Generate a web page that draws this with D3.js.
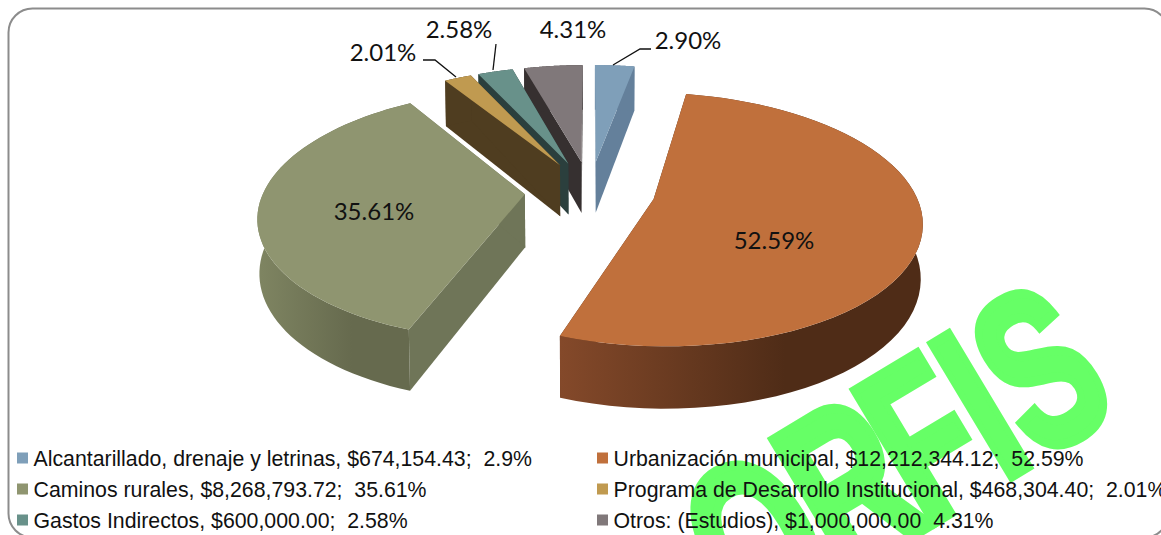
<!DOCTYPE html>
<html>
<head>
<meta charset="utf-8">
<script src="https://cdn.jsdelivr.net/npm/d3@7"></script>
<style>
  html, body { margin: 0; padding: 0; background: #fff; overflow: hidden; }
  svg { display: block; }
  text { white-space: pre; }
</style>
</head>
<body>
<div id="chart"></div>
<script>
// chart data
const categories = [
  "Alcantarillado, drenaje y letrinas",
  "Urbanización municipal",
  "Caminos rurales",
  "Programa de Desarrollo Institucional",
  "Gastos Indirectos",
  "Otros: (Estudios)"
];
const shares = [2.90, 52.59, 35.61, 2.01, 2.58, 4.31];
const pieLabels = ["2.90%", "52.59%", "35.61%", "2.01%", "2.58%", "4.31%"];
const legendTexts = [
  "Alcantarillado, drenaje y letrinas, $674,154.43;  2.9%",
  "Urbanización municipal, $12,212,344.12;  52.59%",
  "Caminos rurales, $8,268,793.72;  35.61%",
  "Programa de Desarrollo Institucional, $468,304.40;  2.01%",
  "Gastos Indirectos, $600,000.00;  2.58%",
  "Otros: (Estudios), $1,000,000.00  4.31%"
];
const topColors = ["#7f9fb9", "#c0703c", "#8f9570", "#c09a50", "#68918a", "#80787a"];
const wallColors = ["#64809b", "#4f2c17", "#6f7558", "#4f3d20", "#2b3f3d", "#363030"];
const gradientStops = [null, ["#84492a", "#4f2c17"], ["#7f8562", "#666a4e"], null, null, null];

const width = 1161, height = 535;

// perspective model of the tilted pie
const view = { cx: 590, cy: 191, a: 261, b: 121, tilt: 0.16, depth: 53, far: 0.006, explode: 0.25 };

function project(u, v, low) {
  const w = 1 - v * view.tilt + (low ? view.far : 0);
  return [
    view.cx + view.a * u / w,
    view.cy + (view.b * v + (low ? view.depth : 0)) / w
  ];
}

const svg = d3.select("#chart").append("svg")
  .attr("width", width)
  .attr("height", height)
  .style("font-family", "Lato, sans-serif");

const defs = svg.append("defs");

// frame, runs past the right and bottom edges of the picture
svg.append("rect")
  .attr("x", 8.5).attr("y", 8.5)
  .attr("width", 1160).attr("height", 529)
  .attr("rx", 24).attr("ry", 24)
  .attr("fill", "#fff")
  .attr("stroke", "#8c8c8c")
  .attr("stroke-width", 2);

// angles clockwise from the top, in order of the data
const arcs = d3.pie().sort(null).value(d => d)(shares);
const line = d3.line();

const slices = arcs.map((d, i) => {
  const mid = (d.startAngle + d.endAngle) / 2;
  const ox = Math.sin(mid) * view.explode, oy = -Math.cos(mid) * view.explode;
  const steps = d3.range(0, 61).map(k => d.startAngle + (d.endAngle - d.startAngle) * k / 60);
  const rim = steps.map(t => [ox + Math.sin(t), oy - Math.cos(t)]);
  return { i, ox, oy, rim };
});

// back to front
const drawOrder = [5, 4, 3, 0, 2, 1];
const pie = svg.append("g");

drawOrder.forEach(i => {
  const s = slices[i];
  const apex = [s.ox, s.oy];
  const first = s.rim[0], last = s.rim[s.rim.length - 1];
  const p = (pt, low) => project(pt[0], pt[1], low);
  let wallFill = wallColors[i];
  if (gradientStops[i]) {
    const xs = s.rim.map(pt => p(pt)[0]);
    const id = "wall" + i;
    const grad = defs.append("linearGradient")
      .attr("id", id)
      .attr("gradientUnits", "userSpaceOnUse")
      .attr("x1", d3.min(xs)).attr("x2", d3.min(xs) + (d3.max(xs) - d3.min(xs)) * 0.62)
      .attr("y1", 0).attr("y2", 0);
    grad.append("stop").attr("offset", 0).attr("stop-color", gradientStops[i][0]);
    grad.append("stop").attr("offset", 1).attr("stop-color", gradientStops[i][1]);
    wallFill = `url(#${id})`;
  }
  const wall = pts => pie.append("path").attr("d", pts).attr("fill", wallColors[i]);
  wall(line([p(apex), p(first), p(first, true), p(apex, true)]) + "Z");
  wall(line([p(apex), p(last), p(last, true), p(apex, true)]) + "Z");
  // outer wall
  pie.append("path")
    .attr("d", line(s.rim.map(pt => p(pt)).concat(s.rim.slice().reverse().map(pt => p(pt, true)))) + "Z")
    .attr("fill", wallFill);
  // top face
  pie.append("path")
    .attr("d", line([p(apex)].concat(s.rim.map(pt => p(pt)))) + "Z")
    .attr("fill", topColors[i]);
});

// watermark, sits under the legend
svg.append("text")
  .attr("transform", "translate(1122,410) rotate(-31) scale(0.66,1)")
  .attr("text-anchor", "end")
  .attr("dx", "0 -5 -17 0 0")
  .attr("font-family", "'Liberation Sans', Arial, sans-serif")
  .attr("font-weight", "bold")
  .attr("font-size", 224)
  .attr("fill", "#66ff66")
  .attr("stroke", "#66ff66")
  .attr("stroke-width", 10)
  .text("ORFIS");

// data labels
const labelPos = [[688, 49], [774, 249], [374, 220], [383, 61], [459, 38], [573, 38]];
svg.append("g")
  .selectAll("text")
  .data(pieLabels)
  .join("text")
  .attr("x", (d, i) => labelPos[i][0])
  .attr("y", (d, i) => labelPos[i][1])
  .attr("text-anchor", "middle")
  .attr("font-size", 24)
  .attr("fill", "#111")
  .text(d => d);

// leader lines
const leaders = [
  [[613, 65], [640, 49], [651, 49]],
  [[456, 77], [435, 60], [423, 60]],
  [[493, 70], [496, 44]]
];
svg.append("g")
  .selectAll("path")
  .data(leaders)
  .join("path")
  .attr("d", d => line(d))
  .attr("fill", "none")
  .attr("stroke", "#111")
  .attr("stroke-width", 1.3);

// legend
const legendX = d3.scaleOrdinal().domain([0, 1]).range([17, 597]);
const legendY = d3.scalePoint().domain([0, 1, 2]).range([458, 520]);
const legendItem = svg.append("g")
  .selectAll("g")
  .data(categories)
  .join("g")
  .attr("transform", (d, i) => `translate(${legendX(i % 2)},${legendY(Math.floor(i / 2))})`);
legendItem.append("rect")
  .attr("y", -5.5)
  .attr("width", 11)
  .attr("height", 11)
  .attr("fill", (d, i) => topColors[i]);
legendItem.append("text")
  .attr("x", 16.5)
  .attr("y", 8)
  .attr("font-family", "'Liberation Sans', Arial, sans-serif")
  .attr("font-size", 21.3)
  .attr("fill", "#111")
  .text((d, i) => legendTexts[i]);
</script>
</body>
</html>
